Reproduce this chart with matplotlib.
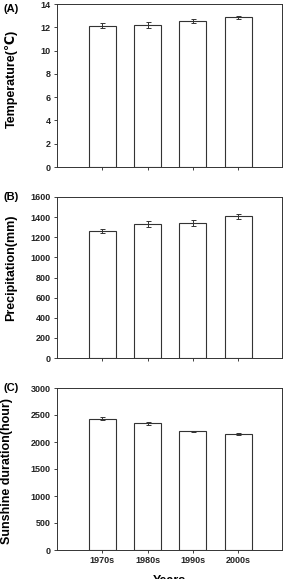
import matplotlib
matplotlib.use('Agg')
import matplotlib.pyplot as plt
import numpy as np

plt.rcParams['font.family'] = ['Liberation Sans', 'DejaVu Sans']
plt.rcParams['font.weight'] = 'bold'

decades = ['1970s', '1980s', '1990s', '2000s']

temp = [12.15, 12.2, 12.55, 12.85]
temp_err = [0.2, 0.22, 0.18, 0.15]

precip = [1265, 1335, 1340, 1410]
precip_err = [20, 30, 30, 25]

sunshine = [2430, 2345, 2200, 2150]
sunshine_err = [25, 30, 8, 15]

panels = [
    ("(A)", "Temperature(\u2103)", temp, temp_err, (0, 14), np.arange(0, 15, 2)),
    ("(B)", "Precipitation(mm)", precip, precip_err, (0, 1600), np.arange(0, 1601, 200)),
    ("(C)", "Sunshine duration(hour)", sunshine, sunshine_err, (0, 3000), np.arange(0, 3001, 500)),
]

fig = plt.figure(figsize=(2.88, 5.79), dpi=100)
W, H = 288, 579
# axes boxes in pixels: left, top, right, bottom
boxes = [(57, 4, 282, 167), (57, 197, 282, 358), (57, 388, 282, 550)]
# y-label right edge (px) and vertical centre (axes frac), tag centre offset
label_pos = [(18, 0.54, 5), (17, 0.56, 0), (13, 0.49, 0)]

x = np.arange(len(decades))
for (tag, ylabel, vals, errs, ylim, yticks), (l, t, r, b), (lx, ly, toff) in zip(panels, boxes, label_pos):
    ax = fig.add_axes([l / W, 1 - b / H, (r - l) / W, (b - t) / H])
    ax.bar(x, vals, width=0.6, color='white', edgecolor='#333333', linewidth=0.8)
    ax.errorbar(x, vals, yerr=errs, fmt='none', ecolor='#333333', elinewidth=0.7,
                capsize=1.8, capthick=0.7)
    ax.set_xlim(-1.0, 3.97)
    ax.set_ylim(*ylim)
    ax.set_yticks(yticks)
    ax.set_xticks(x)
    ax.tick_params(axis='both', direction='out', length=2.5, width=0.6,
                   labelsize=6.5, pad=2, colors='#222222')
    for lbl in ax.get_yticklabels():
        lbl.set_fontweight('bold')
    if tag == "(C)":
        ax.set_xticklabels(decades, fontsize=6.5, fontweight='bold')
        ax.set_xlabel("Years", fontsize=9, fontweight='bold', labelpad=7)
    else:
        ax.set_xticklabels([])
    for s in ax.spines.values():
        s.set_linewidth(0.7)
        s.set_color('#333333')
    ax.set_ylabel(ylabel, fontsize=9, fontweight='bold')
    ax.yaxis.set_label_coords((lx - l) / (r - l), ly)
    fig.text(3 / W, 1 - (t + toff) / H, tag, fontsize=8, fontweight='bold',
             ha='left', va='center')

fig.savefig('out.png', dpi=100)
